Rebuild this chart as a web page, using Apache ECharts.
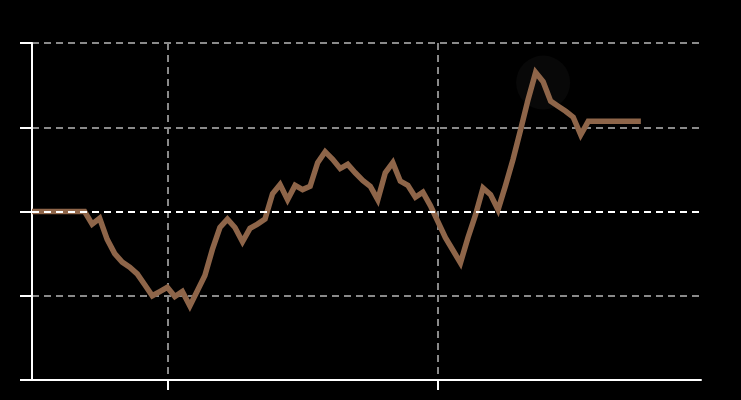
<!DOCTYPE html>
<html>
<head>
<meta charset="utf-8">
<script src="https://cdn.jsdelivr.net/npm/echarts@6/dist/echarts.min.js"></script>
<style>html,body{margin:0;padding:0;background:#000;}#c{width:741px;height:400px;}</style>
</head>
<body>
<div id="c"></div>
<script>
// Categories: 90 equally spaced periods (data fills first 82)
const categories = Array.from({length: 90}, (_, i) => String(i));
// Series values
const values = [
  0, 0, 0, 0, 0, 0, 0, 0, -1.5, -0.8,
  -3.3, -5.0, -6.0, -6.6, -7.4, -8.7, -10.0, -9.5, -9.0, -10.1,
  -9.5, -11.2, -9.4, -7.6, -4.5, -1.9, -0.9, -1.9, -3.6, -2.0,
  -1.5, -0.9, 2.1, 3.2, 1.4, 3.1, 2.6, 3.0, 5.8, 7.1,
  6.2, 5.1, 5.6, 4.6, 3.7, 3.0, 1.4, 4.6, 5.8, 3.6,
  3.1, 1.7, 2.3, 0.7, -1.2, -3.1, -4.6, -6.1, -3.1, -0.4,
  2.8, 2.0, 0.2, 3.1, 6.2, 9.7, 13.3, 16.5, 15.4, 13.1,
  12.5, 11.9, 11.2, 9.1, 10.7, 10.7, 10.7, 10.7, 10.7, 10.7,
  10.7, 10.7
];
// Highlight point (hover halo)
const highlight = [[68, 15.3]];
// Tick positions on x axis
const xTickIdx = [18, 54];
// Y axis ticks
const yMin = -20, yMax = 20, yInterval = 10;

const chart = echarts.init(document.getElementById('c'), null, {renderer: 'canvas'});
const dash = [7, 5];
chart.setOption({
  backgroundColor: '#000',
  animation: false,
  grid: {left: 32, right: 40, top: 43, bottom: 20, containLabel: false},
  xAxis: {
    type: 'category',
    data: categories,
    boundaryGap: false,
    axisLine: {show: true, onZero: false, lineStyle: {color: '#fff', width: 2}},
    axisTick: {show: true, length: 10, interval: (i) => xTickIdx.includes(i), lineStyle: {color: '#fff', width: 2}},
    axisLabel: {show: false},
    splitLine: {show: true, interval: (i) => xTickIdx.includes(i), lineStyle: {color: '#8a8a8a', width: 2, type: dash}}
  },
  yAxis: {
    type: 'value',
    min: yMin, max: yMax, interval: yInterval,
    axisLine: {show: true, onZero: false, lineStyle: {color: '#fff', width: 2}},
    axisTick: {show: true, length: 12, lineStyle: {color: '#fff', width: 2}},
    axisLabel: {show: false},
    splitLine: {show: true, lineStyle: {color: ['#8a8a8a', '#8a8a8a', '#ffffff', '#8a8a8a', '#8a8a8a'], width: 2, type: dash}}
  },
  series: [
    {
      type: 'scatter',
      data: highlight,
      symbolSize: 54,
      itemStyle: {color: 'rgba(255,255,255,0.04)'},
      silent: true,
      z: 1
    },
    {
      type: 'line',
      data: values,
      showSymbol: false,
      symbol: 'none',
      lineStyle: {color: '#8e6549', width: 5.5, join: 'miter'},
      z: 2,
      markLine: {
        silent: true,
        symbol: 'none',
        label: {show: false},
        lineStyle: {color: '#fff', width: 2, type: dash},
        data: [[{coord: [0, 0]}, {coord: [88, 0]}]],
        z: 5
      }
    }
  ]
});
</script>
</body>
</html>
